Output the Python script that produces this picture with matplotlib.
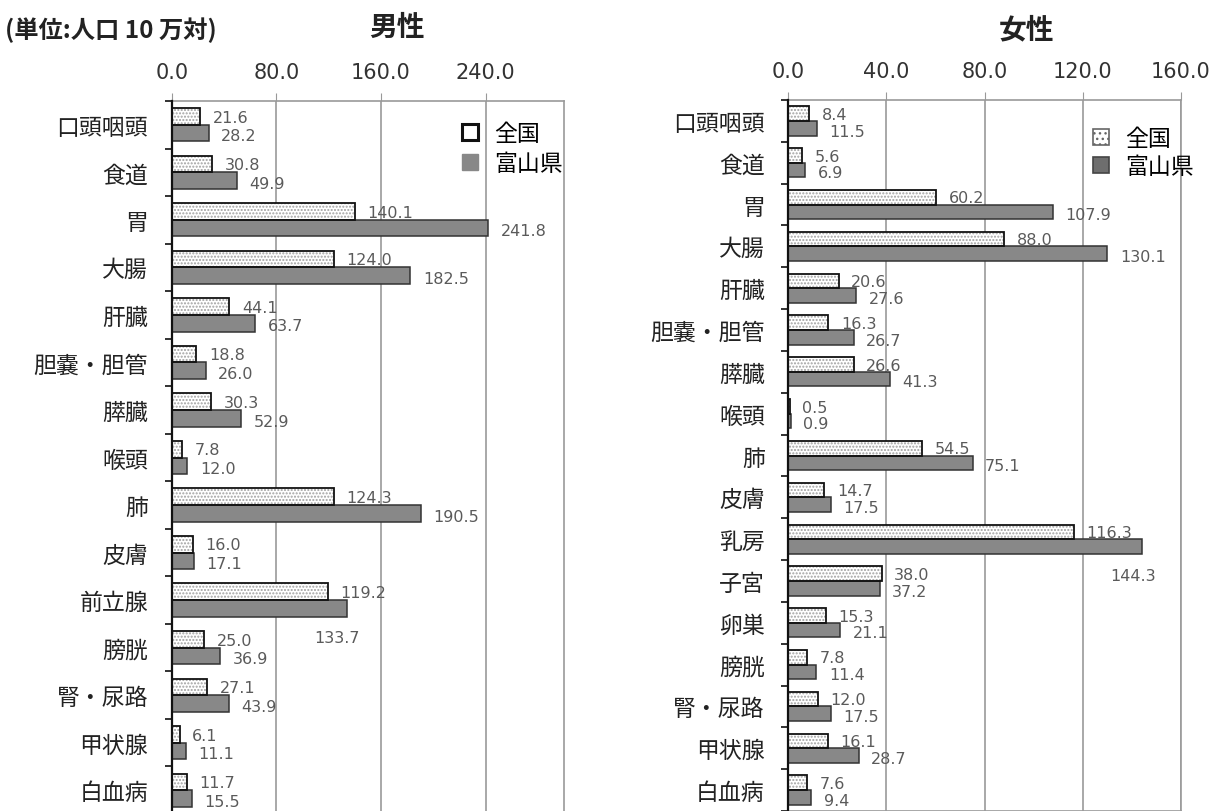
import matplotlib
matplotlib.use('Agg')
import matplotlib.pyplot as plt
from matplotlib.patches import Patch
import numpy as np

plt.rcParams['font.family'] = ['Noto Sans CJK JP', 'DejaVu Sans']
plt.rcParams['hatch.linewidth'] = 1.0

# ---------------- data ----------------
male_categories = ['口頭咽頭', '食道', '胃', '大腸', '肝臓', '胆嚢・胆管', '膵臓', '喉頭',
                   '肺', '皮膚', '前立腺', '膀胱', '腎・尿路', '甲状腺', '白血病']
male_national = [21.6, 30.8, 140.1, 124.0, 44.1, 18.8, 30.3, 7.8, 124.3, 16.0, 119.2, 25.0, 27.1, 6.1, 11.7]
male_toyama = [28.2, 49.9, 241.8, 182.5, 63.7, 26.0, 52.9, 12.0, 190.5, 17.1, 133.7, 36.9, 43.9, 11.1, 15.5]

female_categories = ['口頭咽頭', '食道', '胃', '大腸', '肝臓', '胆嚢・胆管', '膵臓', '喉頭', '肺',
                     '皮膚', '乳房', '子宮', '卵巣', '膀胱', '腎・尿路', '甲状腺', '白血病']
female_national = [8.4, 5.6, 60.2, 88.0, 20.6, 16.3, 26.6, 0.5, 54.5, 14.7, 116.3, 38.0, 15.3, 7.8, 12.0, 16.1, 7.6]
female_toyama = [11.5, 6.9, 107.9, 130.1, 27.6, 26.7, 41.3, 0.9, 75.1, 17.5, 144.3, 37.2, 21.1, 11.4, 17.5, 28.7, 9.4]

male_ticks = [0, 80, 160, 240]
female_ticks = [0, 40, 80, 120, 160]
male_xmax = 300
female_xmax = 160
series_names = ['全国', '富山県']
male_title = '男性'
female_title = '女性'
unit_text = '(単位:人口 10 万対)'
# labels of the Toyama bar that sit below the bar
male_below = ['前立腺']
female_below = ['乳房']

# ---------------- figure ----------------
W, H = 1218, 812
fig = plt.figure(figsize=(W / 100, H / 100), dpi=100)
fig.patch.set_facecolor('white')


def axes_px(x0, x1, y0, y1):
    return fig.add_axes([x0 / W, 1 - y1 / H, (x1 - x0) / W, (y1 - y0) / H])


axL = axes_px(171.7, 564, 102, 815)
axR = axes_px(788.3, 1180.8, 101, 812)

TOYAMA_GRAY = '#888888'
LABEL_GRAY = '#5a5a5a'


def draw(ax, cats, nat, toy, ticks, xmax, below):
    n = len(cats)
    y = np.arange(n)
    h = 0.35
    ax.barh(y - h / 2, nat, height=h, color='white', edgecolor='#a0a0a0',
            hatch='.....', linewidth=0, zorder=3)
    ax.barh(y - h / 2, nat, height=h, color='none', edgecolor='#111111',
            linewidth=1.3, zorder=4)
    ax.barh(y + h / 2, toy, height=h, color=TOYAMA_GRAY, edgecolor='#333333',
            linewidth=1.1, zorder=3)
    ax.set_xlim(0, xmax)
    ax.set_ylim(n - 0.5, -0.5)

    ax.xaxis.tick_top()
    ax.set_xticks(ticks)
    ax.set_xticklabels([f'{t:.1f}' for t in ticks], fontfamily='DejaVu Sans',
                       fontsize=15, color='#333333')
    ax.tick_params(axis='x', which='major', direction='out', length=6,
                   color='#999999', pad=8)
    ax.grid(axis='x', color='#9a9a9a', linewidth=1.2, zorder=0)

    ax.set_yticks(y)
    ax.set_yticklabels(cats, fontsize=16.5, color='#222222')
    ax.set_yticks(np.arange(n + 1) - 0.5, minor=True)
    ax.tick_params(axis='y', which='major', length=0, pad=17)
    ax.tick_params(axis='y', which='minor', length=5, width=1.3,
                   color='#222222', direction='out')

    for s in ['top', 'right', 'bottom']:
        ax.spines[s].set_color('#9a9a9a')
        ax.spines[s].set_linewidth(1.2)
    ax.spines['left'].set_color('#111111')
    ax.spines['left'].set_linewidth(1.6)
    ax.spines['left'].set_zorder(6)

    for i, (a, b) in enumerate(zip(nat, toy)):
        ax.annotate(f'{a:.1f}', xy=(a, i - h / 2), xytext=(9, -0.5),
                    textcoords='offset points', ha='left', va='center',
                    fontsize=11.5, color=LABEL_GRAY, fontfamily='DejaVu Sans', zorder=7)
        if cats[i] in below:
            ax.annotate(f'{b:.1f}', xy=(b, i + h / 2), xytext=(-7, -21),
                        textcoords='offset points', ha='center', va='center',
                        fontsize=11.5, color=LABEL_GRAY, fontfamily='DejaVu Sans', zorder=7)
        else:
            ax.annotate(f'{b:.1f}', xy=(b, i + h / 2), xytext=(9, -2),
                        textcoords='offset points', ha='left', va='center',
                        fontsize=11.5, color=LABEL_GRAY, fontfamily='DejaVu Sans', zorder=7)


draw(axL, male_categories, male_national, male_toyama, male_ticks, male_xmax, male_below)
draw(axR, female_categories, female_national, female_toyama, female_ticks, female_xmax, female_below)

# legends
hL = [Patch(facecolor='white', edgecolor='#111111', linewidth=2.2),
      Patch(facecolor=TOYAMA_GRAY, edgecolor=TOYAMA_GRAY)]
axL.legend(hL, series_names, loc='upper left', bbox_to_anchor=(0.74, 0.97),
           frameon=False, fontsize=16.5, handlelength=0.7, handleheight=0.7,
           handletextpad=0.7, labelspacing=0.3, borderpad=0, borderaxespad=0)

hR = [Patch(facecolor='white', edgecolor='#666666', hatch='...', linewidth=1.2),
      Patch(facecolor='#6e6e6e', edgecolor='#444444', linewidth=1.2)]
axR.legend(hR, series_names, loc='upper left', bbox_to_anchor=(0.776, 0.962),
           frameon=False, fontsize=16.5, handlelength=0.7, handleheight=0.7,
           handletextpad=0.7, labelspacing=0.2, borderpad=0, borderaxespad=0)

# titles
fig.text(5 / W, 1 - 30 / H, unit_text, ha='left', va='center', fontsize=17.5,
         fontweight='bold', color='#222222')
fig.text(397 / W, 1 - 28 / H, male_title, ha='center', va='center', fontsize=20,
         fontweight='bold', color='#222222')
fig.text(1027 / W, 1 - 30 / H, female_title, ha='center', va='center', fontsize=20,
         fontweight='bold', color='#222222')

fig.savefig('out.png', dpi=100, facecolor='white')
